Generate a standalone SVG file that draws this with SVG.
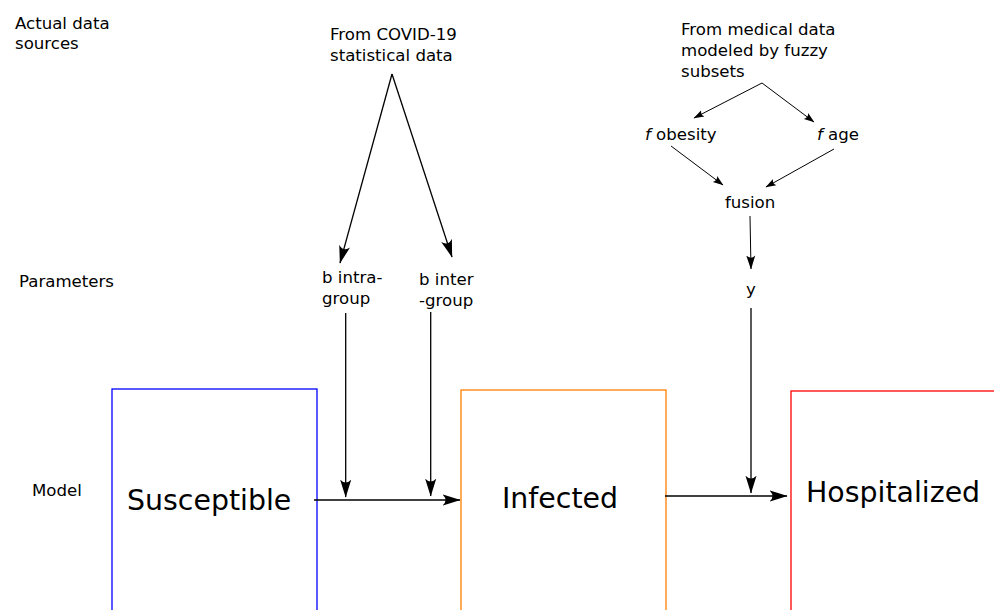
<svg xmlns="http://www.w3.org/2000/svg" width="994" height="610" viewBox="0 0 994 610">
<style>
text{font-family:"DejaVu Sans",Verdana,sans-serif;fill:#000}
.s{font-size:16.6px}
.b{font-size:28.4px}
.ln{fill:none;stroke:#000;stroke-width:1.3}
.th{fill:none;stroke:#000;stroke-width:1}
.box{fill:none;stroke-width:1.3}
</style>
<defs>
<marker id="big" markerUnits="userSpaceOnUse" markerWidth="20" markerHeight="14" viewBox="0 -7 20 14" refX="17.5" refY="0" orient="auto">
<path d="M18,0 L0,-5.6 Q6,0 0,5.6 Z" fill="#000"/>
</marker>
<marker id="med" markerUnits="userSpaceOnUse" markerWidth="16" markerHeight="12" viewBox="0 -6 16 12" refX="13.5" refY="0" orient="auto">
<path d="M14,0 L0,-4.5 Q4.5,0 0,4.5 Z" fill="#000"/>
</marker>
<marker id="sm" markerUnits="userSpaceOnUse" markerWidth="12" markerHeight="10" viewBox="0 -5 12 10" refX="10" refY="0" orient="auto">
<path d="M10.5,0 L0,-3.6 Q3.2,0 0,3.6 Z" fill="#000"/>
</marker>
</defs>

<g id="row-labels">
<text class="s" x="15" y="29">Actual data</text>
<text class="s" x="15" y="49">sources</text>
<text class="s" x="19" y="287">Parameters</text>
<text class="s" x="32" y="496">Model</text>
</g>

<g id="covid-source">
<text class="s" x="330" y="40">From COVID-19</text>
<text class="s" x="330" y="61">statistical data</text>
</g>

<g id="medical-source">
<text class="s" x="681" y="35">From medical data</text>
<text class="s" x="681" y="56">modeled by fuzzy</text>
<text class="s" x="681" y="77">subsets</text>
</g>

<g id="f-obesity">
<text class="s" x="645" y="140"><tspan font-style="italic">f</tspan> obesity</text>
</g>
<g id="f-age">
<text class="s" x="817" y="140"><tspan font-style="italic">f</tspan> age</text>
</g>
<g id="fusion">
<text class="s" x="725" y="208">fusion</text>
</g>
<g id="y-param">
<text class="s" x="746" y="295">y</text>
</g>

<g id="b-intra">
<text class="s" x="322" y="283">b intra-</text>
<text class="s" x="322" y="304">group</text>
</g>
<g id="b-inter">
<text class="s" x="419" y="285">b inter</text>
<text class="s" x="419" y="306">-group</text>
</g>

<g id="susceptible">
<rect class="box" x="112" y="389" width="205" height="240" stroke="#0000ff"/>
<text class="b" x="127" y="510">Susceptible</text>
</g>
<g id="infected">
<rect class="box" x="461" y="390" width="205" height="240" stroke="#ff7f00"/>
<text class="b" x="502" y="508">Infected</text>
</g>
<g id="hospitalized">
<rect class="box" x="791" y="391" width="240" height="240" stroke="#ff0000"/>
<text class="b" x="806" y="502">Hospitalized</text>
</g>

<g id="connectors">
<path class="ln" d="M392,74 L340,263" marker-end="url(#big)"/>
<path class="ln" d="M392,74 L452,257" marker-end="url(#big)"/>
<path class="th" d="M762,83 L694,118" marker-end="url(#sm)"/>
<path class="th" d="M762,83 L814,122" marker-end="url(#sm)"/>
<path class="th" d="M671,146 L723,185" marker-end="url(#sm)"/>
<path class="th" d="M834,149 L766,187" marker-end="url(#sm)"/>
<path class="th" d="M750,216 L751,269" marker-end="url(#med)"/>
<path class="ln" d="M345.7,313 L345.7,497" marker-end="url(#big)"/>
<path class="ln" d="M430.7,312 L430.7,496" marker-end="url(#big)"/>
<path class="ln" d="M751,308 L751,493" marker-end="url(#big)"/>
<path class="ln" d="M314,500 L460,500" marker-end="url(#big)"/>
<path class="ln" d="M665,496 L787,496" marker-end="url(#big)"/>
</g>
</svg>
